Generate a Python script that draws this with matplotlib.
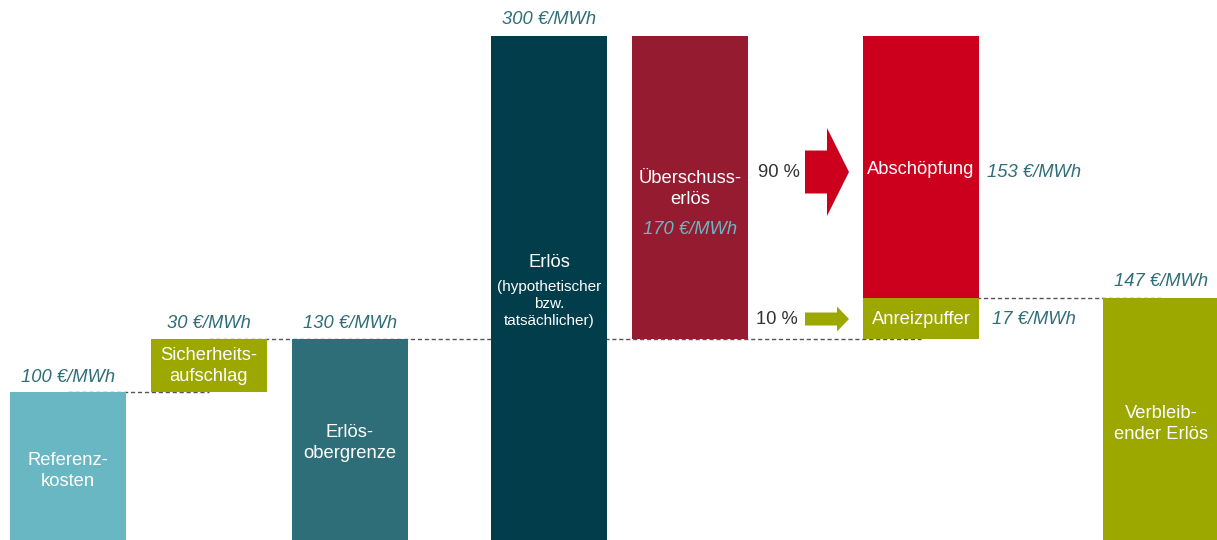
import matplotlib.pyplot as plt
from matplotlib.patches import FancyArrow

plt.rcParams['font.family'] = ['Liberation Sans', 'DejaVu Sans']

# bar data (EUR/MWh), bottoms and tops as drawn in the picture
bar_names = ["Referenz-\nkosten", "Sicherheits-\naufschlag", "Erlös-\nobergrenze", "Erlös",
             "Überschuss-\nerlös", "Abschöpfung", "Anreizpuffer", "Verbleib-\nender Erlös"]
bottoms = [0, 100, 0, 0, 130, 153, 130, 0]
tops = [100, 130, 130, 300, 300, 300, 153, 153]
value_labels = ["100 €/MWh", "30 €/MWh", "130 €/MWh", "300 €/MWh",
                "170 €/MWh", "153 €/MWh", "17 €/MWh", "147 €/MWh"]
shares = ["90 %", "10 %"]

# layout (pixel x positions)
xpos = [68, 209, 350, 549, 690, 921, 921, 1161]
bar_w = 116
colors = ['#6AB7C4', '#9CA700', '#2E6E78', '#023D4B', '#951B30', '#CC001C', '#9CA700', '#9CA700']

# pixel-y -> data helper (zero sits below the visible area)
Y0, K = 570, 1.78
def py(p):
    return (Y0 - p) / K

fig = plt.figure(figsize=(12.17, 5.4), dpi=100)
ax = fig.add_axes([0, 0, 1, 1])
ax.set_xlim(0, 1217)
ax.set_ylim(py(540), py(0))
ax.axis('off')

heights = [t - b for t, b in zip(tops, bottoms)]
ax.bar(xpos, heights, bottom=bottoms, width=bar_w, color=colors, zorder=2)

# dashed connectors
dash = dict(color='#555555', lw=1, ls=(0, (3, 2)), zorder=1)
ax.plot([xpos[0], xpos[1]], [tops[0], tops[0]], **dash)
ax.plot([xpos[1], xpos[5]], [tops[1], tops[1]], **dash)
ax.plot([xpos[6], xpos[7]], [tops[6], tops[6]], **dash)

# bar texts
txt = dict(color='white', ha='center', va='center', fontsize=13.2, linespacing=1.32, zorder=3)
ax.text(xpos[0], py(471), bar_names[0], **txt)
ax.text(xpos[1], py(366), bar_names[1], **txt)
ax.text(xpos[2], py(443), bar_names[2], **txt)
ax.text(xpos[3], py(263), bar_names[3], **txt)
ax.text(xpos[3], py(304), "(hypothetischer\nbzw.\ntatsächlicher)", color='white', ha='center',
        va='center', fontsize=11, linespacing=1.3, zorder=3)
ax.text(xpos[4], py(189), bar_names[4], **txt)
ax.text(xpos[5], py(169), bar_names[5], **txt)
ax.text(xpos[6], py(320), bar_names[6], **txt)
ax.text(xpos[7], py(424), bar_names[7], **txt)

# value labels
val = dict(color='#2E6E78', ha='center', va='center', fontsize=13.2, style='italic')
ax.text(xpos[0], py(378), value_labels[0], **val)
ax.text(xpos[1], py(323), value_labels[1], **val)
ax.text(xpos[2], py(323), value_labels[2], **val)
ax.text(xpos[3], py(20), value_labels[3], **val)
ax.text(xpos[4], py(230), value_labels[4], color='#6AB7C4', ha='center', va='center',
        fontsize=13.2, style='italic', zorder=3)
ax.text(1034, py(173), value_labels[5], **val)
ax.text(1034, py(320), value_labels[6], **val)
ax.text(xpos[7], py(282), value_labels[7], **val)

# shares and arrows
ax.text(779, py(173), shares[0], color='#333333', ha='center', va='center', fontsize=13.2)
ax.text(777, py(320), shares[1], color='#333333', ha='center', va='center', fontsize=13.2)
ax.add_patch(FancyArrow(805, py(172), 44, 0, width=43 / K, head_width=88 / K,
                        head_length=22, length_includes_head=True, color='#CC001C', lw=0))
ax.add_patch(FancyArrow(805, py(319), 44, 0, width=13 / K, head_width=25 / K,
                        head_length=12, length_includes_head=True, color='#9CA700', lw=0))

fig.savefig('out.png', dpi=100)
